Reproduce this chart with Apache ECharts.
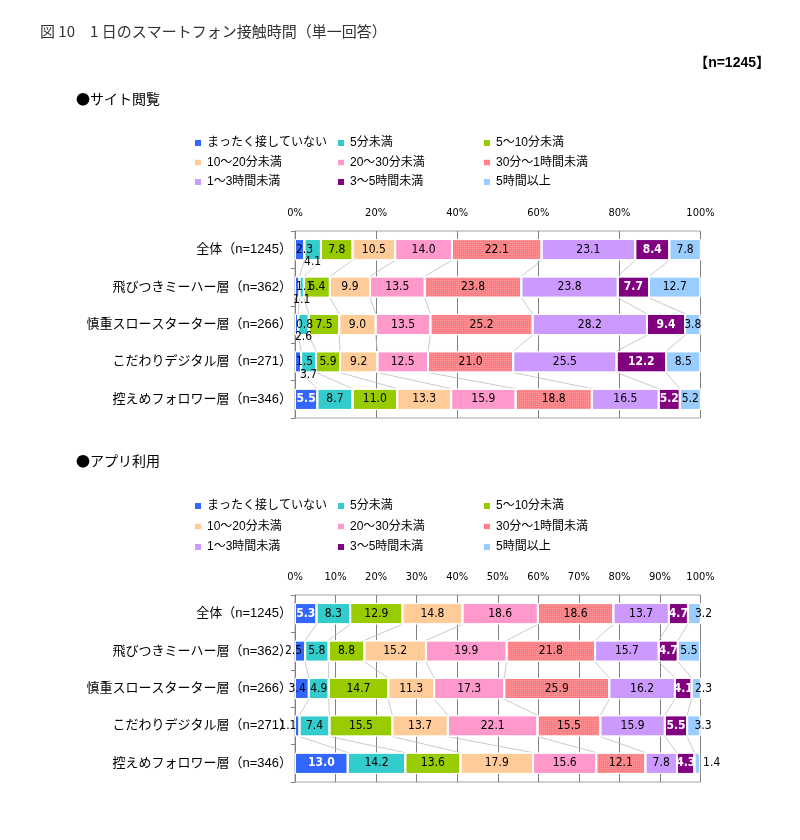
<!DOCTYPE html>
<html><head><meta charset="utf-8">
<script src="https://cdn.jsdelivr.net/npm/echarts@6/dist/echarts.min.js"></script>
<style>html,body{margin:0;padding:0;background:#fff}#c{width:800px;height:840px}</style>
</head><body><div id="c"></div>
<script>
// ---- data ----
const categories = ['全体（n=1245）','飛びつきミーハー層（n=362）','慎重スロースターター層（n=266）','こだわりデジタル層（n=271）','控えめフォロワー層（n=346）'];
const seriesNames = ['まったく接していない','5分未満','5～10分未満','10～20分未満','20～30分未満','30分～1時間未満','1～3時間未満','3～5時間未満','5時間以上'];
const colors = ['#3366FF','#33CCCC','#99CC00','#FFCC99','#FF99CC','#FF7C80','#CC99FF','#800080','#99CCFF'];
const siteTicks = ['0%','20%','40%','60%','80%','100%'];
const appTicks = ['0%','10%','20%','30%','40%','50%','60%','70%','80%','90%','100%'];

// サイト閲覧 (rows, values per series)
const siteTotal    = [2.3, 4.1, 7.8, 10.5, 14.0, 22.1, 23.1, 8.4, 7.8];
const siteMiha     = [1.1, 1.1, 6.4, 9.9, 13.5, 23.8, 23.8, 7.7, 12.7];
const siteSlow     = [0.8, 2.6, 7.5, 9.0, 13.5, 25.2, 28.2, 9.4, 3.8];
const siteDigital  = [1.5, 3.7, 5.9, 9.2, 12.5, 21.0, 25.5, 12.2, 8.5];
const siteFollower = [5.5, 8.7, 11.0, 13.3, 15.9, 18.8, 16.5, 5.2, 5.2];
// アプリ利用
const appTotal    = [5.3, 8.3, 12.9, 14.8, 18.6, 18.6, 13.7, 4.7, 3.2];
const appMiha     = [2.5, 5.8, 8.8, 15.2, 19.9, 21.8, 15.7, 4.7, 5.5];
const appSlow     = [3.4, 4.9, 14.7, 11.3, 17.3, 25.9, 16.2, 4.1, 2.3];
const appDigital  = [1.1, 7.4, 15.5, 13.7, 22.1, 15.5, 15.9, 5.5, 3.3];
const appFollower = [13.0, 14.2, 13.6, 17.9, 15.6, 12.1, 7.8, 4.3, 1.4];

const siteRows = [siteTotal, siteMiha, siteSlow, siteDigital, siteFollower];
const appRows = [appTotal, appMiha, appSlow, appDigital, appFollower];

// ---- layout / style ----
const FONT = '"Liberation Sans Narrow", "DejaVu Sans Condensed", "Liberation Sans", Arial, "Noto Sans CJK JP", sans-serif';
const AXFONT = '"Liberation Sans", Arial, "Noto Sans CJK JP", sans-serif';
const CJK = '"Noto Sans CJK JP", sans-serif';
const GAP = 0.43;

function labelFor(chartIdx, s, v) {
  const l = {show: true, position: 'inside', fontSize: 12, fontFamily: FONT, color: '#000',
    formatter: p => Number(p.value).toFixed(1)};
  if (s === 0) {
    if (v >= 5) { l.color = '#fff'; l.fontWeight = 'bold'; }
    else if (chartIdx === 0) { l.position = 'insideLeft'; l.distance = 1; }
    else { l.position = 'insideRight'; l.distance = 3; }
  }
  if (s === 7) { l.color = '#fff'; l.fontWeight = 'bold'; }
  if (s === 1 && v < 4.5) { l.position = 'bottom'; l.distance = -4; }
  if (s === 8 && chartIdx === 1) {
    if (v < 2) { l.position = 'right'; l.distance = 3; }
    else if (v < 4) { l.position = 'right'; l.distance = -6; }
  }
  return l;
}

function barSeries(rows, idx, stack) {
  return seriesNames.map((name, s) => ({
    name, type: 'bar', stack, xAxisIndex: idx, yAxisIndex: idx,
    barCategoryGap: (GAP * 100) + '%',
    itemStyle: {color: colors[s], borderColor: '#fff', borderWidth: 1,
      decal: s === 5
        ? {symbol: 'rect', symbolSize: 1, dashArrayX: [1, 1], dashArrayY: [1, 1], color: 'rgba(255,255,255,0.22)'}
        : {symbol: 'none'}},
    data: rows.map(r => ({value: r[s], label: labelFor(idx, s, r[s])})),
    z: 3
  }));
}

function connectorSeries(rows, idx) {
  return {
    type: 'custom', xAxisIndex: idx, yAxisIndex: idx, silent: true, z: 1,
    data: rows.slice(0, -1).map((r, i) => [0, i]),
    renderItem: (params, api) => {
      const i = params.dataIndex;
      const half = api.size([0, 1])[1] * (1 - GAP) / 2;
      const children = [];
      let c1 = 0, c2 = 0;
      for (let k = 0; k < rows[i].length - 1; k++) {
        c1 += rows[i][k]; c2 += rows[i + 1][k];
        const p1 = api.coord([c1, i]);
        const p2 = api.coord([c2, i + 1]);
        children.push({type: 'line', shape: {x1: p1[0], y1: p1[1] + half, x2: p2[0], y2: p2[1] - half},
          style: {stroke: '#bcbcbc', lineWidth: 0.8}});
      }
      return {type: 'group', children};
    }
  };
}

function xAxisFor(idx, ticks) {
  const step = 100 / (ticks.length - 1);
  return {
    type: 'value', gridIndex: idx, position: 'top', min: 0, max: 100, interval: step,
    axisLine: {show: false}, axisTick: {show: false},
    axisLabel: {fontSize: 11, fontFamily: FONT, color: '#000', margin: 12,
      formatter: v => ticks[Math.round(v / step)]},
    splitLine: {show: true, lineStyle: {color: '#808080', width: 1}}
  };
}
function yAxisFor(idx) {
  return {
    type: 'category', gridIndex: idx, inverse: true, data: categories,
    axisLine: {show: true, lineStyle: {color: '#808080'}},
    axisTick: {show: true, length: 4, lineStyle: {color: '#808080'}},
    axisLabel: {fontSize: 13, fontFamily: AXFONT, color: '#000', margin: 3}
  };
}

const legendCols = [[0, 3, 6], [1, 4, 7], [2, 5, 8]];
const legendX = [193, 336, 482];
function legends(top, gap) {
  return legendCols.map((col, c) => ({
    orient: 'vertical', left: legendX[c], top, itemWidth: 8, itemHeight: 8, itemGap: gap,
    padding: 0, icon: 'rect', selectedMode: false,
    textStyle: {fontSize: 12, lineHeight: 14, fontFamily: AXFONT, color: '#000'},
    data: col.map(i => seriesNames[i])
  }));
}

const chart = echarts.init(document.getElementById('c'), null, {renderer: 'canvas'});
chart.setOption({
  animation: false,
  backgroundColor: '#fff',
  aria: {enabled: true, decal: {show: true}},
  title: [
    {text: '図 10　1 日のスマートフォン接触時間（単一回答）', left: 40, top: 24, padding: 0,
      textStyle: {fontSize: 15, fontWeight: 'normal', color: '#333', fontFamily: CJK}},
    {text: '【n=1245】', right: 30, top: 56, padding: 0,
      textStyle: {fontSize: 14, fontWeight: 'bold', color: '#000', fontFamily: AXFONT}},
    {text: '●サイト閲覧', left: 76, top: 92, padding: 0,
      textStyle: {fontSize: 14, fontWeight: 'normal', color: '#000', fontFamily: CJK}},
    {text: '●アプリ利用', left: 76, top: 454, padding: 0,
      textStyle: {fontSize: 14, fontWeight: 'normal', color: '#000', fontFamily: CJK}}
  ],
  legend: legends(136, 5.5).concat(legends(499, 6.5)),
  grid: [
    {left: 295, top: 231, width: 405.5, height: 187, show: true, borderColor: '#a6a6a6', borderWidth: 1},
    {left: 295, top: 595, width: 405.5, height: 187, show: true, borderColor: '#a6a6a6', borderWidth: 1}
  ],
  xAxis: [xAxisFor(0, siteTicks), xAxisFor(1, appTicks)],
  yAxis: [yAxisFor(0), yAxisFor(1)],
  series: barSeries(siteRows, 0, 'site').concat(barSeries(appRows, 1, 'app'))
    .concat([connectorSeries(siteRows, 0), connectorSeries(appRows, 1)])
});
</script></body></html>
